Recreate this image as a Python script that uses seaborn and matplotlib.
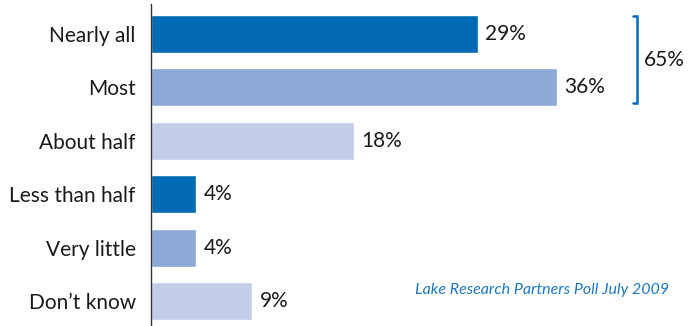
import matplotlib
matplotlib.use("Agg")
import matplotlib.pyplot as plt
import seaborn as sns
import pandas as pd

categories = ["Nearly all", "Most", "About half", "Less than half", "Very little", "Don\u2019t know"]
values = [29, 36, 18, 4, 4, 9]
labels = ["29%", "36%", "18%", "4%", "4%", "9%"]
combined_label = "65%"
source = "Lake Research Partners Poll July 2009"

dark = "#006ab4"
mid = "#8da9d6"
light = "#c3cde8"
colors = [dark, mid, light, dark, mid, light]

sns.set_theme(style="white")
plt.rcParams["font.family"] = ["Lato", "DejaVu Sans"]

W, H = 688, 326
fig = plt.figure(figsize=(W / 100, H / 100), dpi=100)
left, right, top, bottom = 151, 681, 4, 326
ax = fig.add_axes([left / W, 1 - bottom / H, (right - left) / W, (bottom - top) / H])

df = pd.DataFrame({"category": categories, "value": values})
sns.barplot(data=df, x="value", y="category", hue="category", palette=colors,
            orient="h", width=0.71, legend=False, ax=ax, saturation=1)

ax.set_xlim(0, (right - left) / 11.27)
ax.set_ylim(5.468, -0.562)
ax.set_xlabel("")
ax.set_ylabel("")
ax.set_xticks([])
for s in ["top", "right", "bottom"]:
    ax.spines[s].set_visible(False)
ax.spines["left"].set_color("#333333")
ax.spines["left"].set_linewidth(1.0)
ax.tick_params(axis="y", length=0, pad=11, labelsize=15, labelcolor="#1a1a1a")

for i, (v, lab) in enumerate(zip(values, labels)):
    ax.annotate(lab, (v, i), xytext=(5.5, 0), textcoords="offset points",
                va="center", ha="left", fontsize=15, color="#1a1a1a")

# bracket grouping the top two answers
bx = 43.1
ax.plot([bx - 0.35, bx, bx, bx - 0.35], [-0.337, -0.337, 1.30, 1.30],
        color=dark, lw=1.8, clip_on=False, solid_joinstyle="miter")
ax.text(bx + 0.6, 0.48, combined_label, va="center", ha="left", fontsize=15,
        color="#1a1a1a")

fig.text(669 / W, 1 - 290 / H, source, ha="right", va="center",
         fontsize=11.5, style="italic", color="#1f78c1")

fig.savefig("out.png", dpi=100)
